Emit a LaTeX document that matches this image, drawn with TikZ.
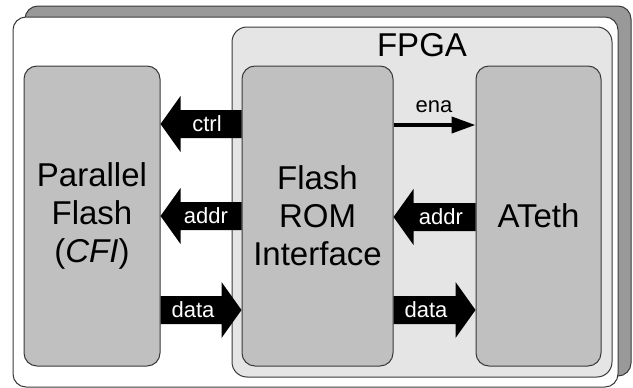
\documentclass[tikz,border=0pt]{standalone}
\usepackage{fontspec}
\setmainfont{Liberation Sans}
\usetikzlibrary{arrows.meta,calc}
\definecolor{shadowgray}{HTML}{999999}
\definecolor{fpgagray}{HTML}{E5E5E5}
\definecolor{boxgray}{HTML}{C0C0C0}
\definecolor{edgegray}{HTML}{3A3A3A}
\tikzset{
  frame/.style={draw=edgegray, line width=1pt, rounded corners=13pt, inner sep=0pt},
  blockbox/.style={frame, fill=boxgray, align=center, font=\fontsize{33}{38}\selectfont},
  sig/.style={text=white, font=\fontsize{22}{25}\selectfont, inner sep=0pt},
  fatleft/.style={fill=black, draw=none, to path={let \p1=(\tikztostart), \p2=(\tikztotarget) in
     (\x1,\y1+14pt) -- (\x2+20pt,\y1+14pt) -- (\x2+20pt,\y1+28pt) -- (\x2,\y1) -- (\x2+20pt,\y1-28pt) -- (\x2+20pt,\y1-14pt) -- (\x1,\y1-14pt) -- cycle}},
  fatright/.style={fill=black, draw=none, to path={let \p1=(\tikztostart), \p2=(\tikztotarget) in
     (\x1,\y1+14pt) -- (\x2-20pt,\y1+14pt) -- (\x2-20pt,\y1+28pt) -- (\x2,\y1) -- (\x2-20pt,\y1-28pt) -- (\x2-20pt,\y1-14pt) -- (\x1,\y1-14pt) -- cycle}},
}
\begin{document}
\begin{tikzpicture}[x=1pt,y=-1pt]
\useasboundingbox (0,0) rectangle (633,388);
% shadow and outer frame
\node[frame, fill=shadowgray, minimum width=606pt, minimum height=370pt] (shadow) at (328,191) {};
\node[frame, fill=white, minimum width=605pt, minimum height=370pt] (outer) at (315.5,202) {};
% FPGA region
\node[frame, fill=fpgagray, minimum width=380pt, minimum height=350pt, rounded corners=15pt] (fpga) at (422,202) {};
\node[font=\fontsize{33}{38}\selectfont, inner sep=0pt] (fpgalabel) at (422,45) {FPGA};
% blocks
\node[blockbox, minimum width=136pt, minimum height=300pt] (pf) at (92,216) {Parallel\\Flash\\(\textit{CFI})};
\node[blockbox, minimum width=151pt, minimum height=300pt] (fr) at (317.5,216) {Flash\\ROM\\Interface};
\node[blockbox, minimum width=125pt, minimum height=300pt] (at) at (538.5,216) {ATeth};
% fat arrows
\path[fatleft] (fr.west |- 0,124) to (pf.east |- 0,124);
\node[sig] (ctrllbl) at (207,124) {ctrl};
\path[fatleft] (fr.west |- 0,216) to (pf.east |- 0,216);
\node[sig] (addrlbl) at (206,216) {addr};
\path[fatright] (pf.east |- 0,310) to (fr.west |- 0,310);
\node[sig] (datalbl) at (193,310) {data};
\path[fatleft] (at.west |- 0,217) to (fr.east |- 0,217);
\node[sig] (addrlbl2) at (441,217) {addr};
\path[fatright] (fr.east |- 0,310) to (at.west |- 0,310);
\node[sig] (datalbl2) at (426,310) {data};
% ena
\draw[line width=4pt, -{Triangle[length=24pt,width=16pt]}] (fr.east |- 0,125) -- (at.west |- 0,125);
\node[font=\fontsize{22}{25}\selectfont, inner sep=0pt] (enalbl) at (434,107) {ena};
\end{tikzpicture}
\end{document}
